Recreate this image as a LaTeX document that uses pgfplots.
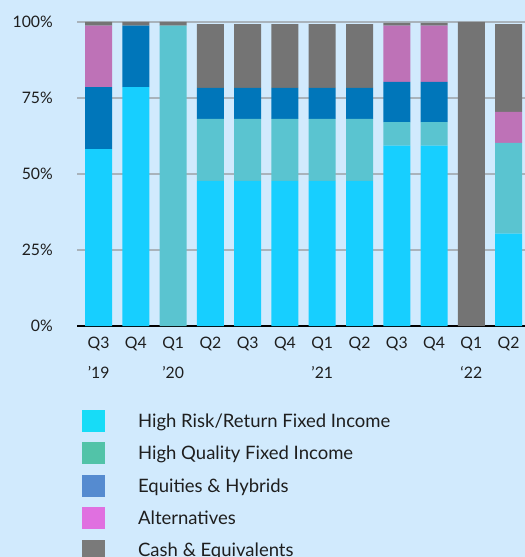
\documentclass[border=0pt]{standalone}
\usepackage{pgfplots}
\pgfplotsset{compat=1.18}
\usepackage{fontspec}
\setmainfont{Lato}
\definecolor{bgc}{HTML}{D1EAFD}
\definecolor{gridc}{HTML}{A9B3BB}
\definecolor{labc}{HTML}{1E1E1E}
\definecolor{hrc}{HTML}{17CFFF}
\definecolor{hqc}{HTML}{5AC4D0}
\definecolor{eqc}{HTML}{0076BA}
\definecolor{alc}{HTML}{BE72B7}
\definecolor{cac}{HTML}{747474}
\definecolor{lhr}{HTML}{17DCF7}
\definecolor{lhq}{HTML}{52C3A8}
\definecolor{leq}{HTML}{558BD0}
\definecolor{lal}{HTML}{E070E0}
\definecolor{lca}{HTML}{7A7A7A}
\pgfplotsset{mylegsq/.style={legend image code/.code={\fill[#1] (0bp,-10.5bp) rectangle (22bp,10.5bp); \path[draw=none,fill=none] (0,0) rectangle (56bp,0.1bp);}}}
\begin{document}
\begin{tikzpicture}
\useasboundingbox (0,0) rectangle (525bp,557bp);
\fill[bgc] (0,0) rectangle (525bp,557bp);
\clip (0,0) rectangle (525bp,557bp);
\begin{axis}[
  at={(77bp,231bp)}, anchor=south west,
  scale only axis, width=448bp, height=304bp,
  xmin=-0.58, xmax=11.44, ymin=0, ymax=100,
  ybar stacked, bar width=27bp,
  xtick={0,...,11},
  xticklabels={{Q3\\’19},Q4,{Q1\\’20},Q2,Q3,Q4,{Q1\\’21},Q2,Q3,Q4,{Q1\\‘22},Q2},
  ytick={0,25,50,75,100}, yticklabels={0\%,25\%,50\%,75\%,100\%},
  axis x line*=bottom, axis y line*=left,
  x axis line style={black, line width=2.5bp, -},
  y axis line style={draw=none},
  major tick length=0pt,
  ymajorgrids, grid style={gridc, line width=1.3bp},
  tick label style={font=\fontsize{15.8bp}{30bp}\selectfont, text=labc},
  xticklabel style={align=center, anchor=north, inner sep=0pt, yshift=-11bp},
  yticklabel style={anchor=east, inner sep=0pt, xshift=-24bp},
  clip=false,
  legend style={at={(axis description cs:0.011,-0.276)}, anchor=north west, draw=none, fill=none,
    inner sep=0pt, outer sep=0pt, row sep=11bp,
    font=\fontsize{18.5bp}{22bp}\selectfont, text=labc,
    nodes={inner sep=0pt, text height=13.3bp, text depth=0bp, anchor=west}},
  legend cell align=left,
]
\addplot[fill=hrc, draw=none, forget plot] coordinates {(0,58.2) (1,78.6) (2,0) (3,47.7) (4,47.7) (5,47.7) (6,47.7) (7,47.7) (8,59.3) (9,59.3) (10,0) (11,30.4)};
\addplot[fill=hqc, draw=none, forget plot] coordinates {(0,0) (1,0) (2,98.8) (3,20.4) (4,20.4) (5,20.4) (6,20.4) (7,20.4) (8,7.8) (9,7.8) (10,0) (11,29.8)};
\addplot[fill=eqc, draw=none, forget plot] coordinates {(0,20.4) (1,20.2) (2,0) (3,10.2) (4,10.2) (5,10.2) (6,10.2) (7,10.2) (8,13.2) (9,13.2) (10,0) (11,0)};
\addplot[fill=alc, draw=none, forget plot] coordinates {(0,20.2) (1,0) (2,0) (3,0) (4,0) (5,0) (6,0) (7,0) (8,18.5) (9,18.5) (10,0) (11,10.2)};
\addplot[fill=cac, draw=none, forget plot] coordinates {(0,1.2) (1,1.2) (2,1.2) (3,21.0) (4,21.0) (5,21.0) (6,21.0) (7,21.0) (8,0.9) (9,0.9) (10,100) (11,28.9)};
\addlegendimage{mylegsq=lhr}
\addlegendentry{High Risk/Return Fixed Income}
\addlegendimage{mylegsq=lhq}
\addlegendentry{High Quality Fixed Income}
\addlegendimage{mylegsq=leq}
\addlegendentry{Equities \& Hybrids}
\addlegendimage{mylegsq=lal}
\addlegendentry{Alternatives}
\addlegendimage{mylegsq=lca}
\addlegendentry{Cash \& Equivalents}
\end{axis}
\end{tikzpicture}
\end{document}
